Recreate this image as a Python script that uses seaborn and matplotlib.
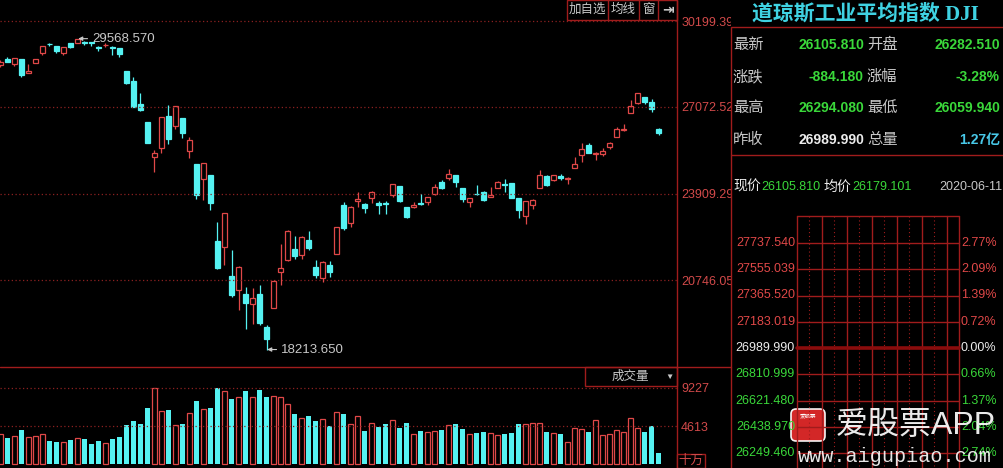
import numpy as np
import pandas as pd
import matplotlib
matplotlib.use("Agg")
import matplotlib.pyplot as plt
import seaborn as sns
from matplotlib.patches import Rectangle, FancyBboxPatch

# 道琼斯工业平均指数 日K 2020-01-28 ~ 2020-06-11
opens = [28598, 28820, 28641, 28813, 28319, 28696, 29048, 29388, 29286, 29034,
         29400, 29406, 29436, 29430, 29280, 29330, 29260, 29230, 28402, 28025,
         27188, 26536, 25229, 25590, 26762, 26383, 26671, 25457, 24992, 24453,
         24604, 22184, 21973, 20917, 20400, 20230, 19880, 20253, 19028, 19722,
         21050, 21468, 21898, 21678, 22208, 21227, 20819, 21285, 21693, 23500,
         22840, 23650, 23530, 23750, 23560, 23580, 23840, 24180, 23420, 23420,
         23560, 23620, 23900, 24350, 24480, 24600, 24120, 23600, 23900, 23950,
         23800, 24100, 24260, 24300, 23750, 23100, 23500, 24100, 24560, 24400,
         24560, 24440, 24830, 25330, 25700, 25340, 25350, 25600, 25960, 26230,
         26850, 27230, 27447, 27250, 26282.51]
highs = [28773, 28892, 28879, 28813, 28630, 28844, 29301, 29408, 29286, 29278,
         29415, 29568.57, 29500, 29440, 29300, 29408, 29290, 29240, 28402, 28175,
         27600, 26536, 25520, 26706, 27140, 27102, 26671, 25994, 24992, 25020,
         24604, 22860, 23186, 21850, 21270, 20490, 20450, 20570, 19122, 20750,
         22070, 22595, 22360, 22378, 22540, 21500, 21455, 21447, 22680, 23600,
         23449, 23950, 23560, 23990, 23650, 23630, 24264, 24180, 23420, 23600,
         23900, 23780, 24250, 24400, 24800, 24600, 24120, 23760, 24220, 24000,
         24150, 24360, 24460, 24300, 23750, 23650, 23700, 24765, 24600, 24600,
         24640, 24520, 25230, 25750, 25760, 25440, 25560, 25800, 26340, 26450,
         27340, 27580, 27450, 27350, 26294.08]
lows = [28548, 28722, 28560, 28169, 28319, 28696, 28961, 29283, 29056, 28990,
        29218, 29406, 29350, 29300, 29110, 29280, 28990, 28900, 27921, 27057,
        26916, 25758, 24681, 25391, 25706, 26286, 25944, 25227, 23707, 23690,
        23328, 21154, 21286, 20117, 19650, 18950, 19130, 19124, 18213.65, 19722,
        20570, 21452, 21520, 21522, 21855, 20830, 20675, 20863, 21693, 22580,
        22700, 23433, 23200, 23580, 23170, 23170, 23800, 23600, 23000, 23400,
        23480, 23500, 23850, 24080, 24420, 24150, 23600, 23420, 23850, 23630,
        23780, 24100, 23970, 23750, 23010, 22790, 23350, 24100, 24180, 24380,
        24400, 24270, 24830, 25050, 25380, 25140, 25300, 25540, 25960, 26200,
        26850, 27200, 27180, 26900, 26059.94]
closes = [28723, 28734, 28859, 28256, 28400, 28808, 29291, 29380, 29103, 29277,
          29276, 29551, 29423, 29398, 29232, 29348, 29220, 28992, 27961, 27081,
          26958, 25767, 25409, 26703, 25917, 27091, 26121, 25865, 23851, 25018,
          23553, 21201, 23186, 20189, 21237, 19899, 20087, 19174, 18592, 20705,
          21201, 22552, 21637, 22327, 21917, 20944, 21413, 21053, 22680, 22654,
          23434, 23719, 23391, 23950, 23504, 23538, 24242, 23650, 23060, 23476,
          23515, 23775, 24134, 24102, 24634, 24346, 23724, 23750, 23883, 23665,
          23876, 24331, 24222, 23765, 23300, 23625, 23685, 24597, 24207, 24576,
          24474, 24465, 24995, 25548, 25401, 25383, 25475, 25743, 26270, 26282,
          27111, 27572, 27272, 26990, 26105.81]
# 成交量 (十万)
volumes = [3660, 3210, 3415, 4145, 3295, 3415, 3660, 2845, 2685, 2685,
           2925, 3170, 3050, 2440, 2805, 2560, 3090, 3295, 4755, 5245,
           4880, 6830, 9227, 6465, 6585, 4755, 4880, 6220, 7685, 6705,
           6830, 9227, 8900, 7925, 8170, 8900, 8170, 9025, 8170, 8295,
           8170, 7315, 6100, 5610, 5855, 5245, 5490, 4635, 6340, 6100,
           4880, 5855, 4025, 5000, 4510, 4880, 5365, 4390, 5000, 3660,
           4025, 3900, 4025, 4145, 4755, 4880, 4270, 3660, 3780, 3900,
           3780, 3535, 3660, 3780, 4880, 4880, 5000, 5000, 3900, 3780,
           3660, 2685, 4390, 4270, 3900, 5365, 3535, 3660, 4145, 3900,
           5610, 4390, 3900, 4635, 1340]

price_grid = [30199.39, 27072.52, 23909.29, 20746.05]
price_grid_labels = ["30199.39", "27072.52", "23909.29", "20746.05"]
vol_grid = [9227, 4613]
vol_grid_labels = ["9227", "4613"]

panel_title = "道琼斯工业平均指数 DJI"
quote_labels_l = ["最新", "涨跌", "最高", "昨收"]
quote_values_l = ["26105.810", "-884.180", "26294.080", "26989.990"]
quote_labels_r = ["开盘", "涨幅", "最低", "总量"]
quote_values_r = ["26282.510", "-3.28%", "26059.940", "1.27亿"]
last_price = "26105.810"
avg_price = "26179.101"
trade_date = "2020-06-11"
ladder_prices = ["27737.540", "27555.039", "27365.520", "27183.019", "26989.990",
                 "26810.999", "26621.480", "26438.970", "26249.460"]
ladder_pcts = ["2.77%", "2.09%", "1.39%", "0.72%", "0.00%",
               "0.66%", "1.37%", "2.04%", "2.74%"]

RED = "#e04848"
CYAN = "#55f2f2"
GREEN = "#3ad83a"
WHITE = "#ececec"
GRAY = "#c8c8c8"
LINE = "#a01c1c"
GRID = "#8c2020"
LBL = "#d24a4a"

sns.set_theme(style="dark", rc={"figure.facecolor": "black", "axes.facecolor": "black",
                                "savefig.facecolor": "black"})
plt.rcParams["font.family"] = ["Liberation Sans", "Noto Sans CJK SC", "DejaVu Sans"]

W, H = 1004, 468
fig = plt.figure(figsize=(W / 100, H / 100), dpi=100)
ax_p = fig.add_axes([0, 101 / H, 677 / W, 367 / H])
ax_v = fig.add_axes([0, 0, 677 / W, 101 / H])

o = np.array(opens, float)
c = np.array(closes, float)
h = np.array(highs, float)
l = np.array(lows, float)
x = np.arange(len(c))
up = c >= o
cols = np.where(up, RED, CYAN)
top = np.maximum(o, c)
bot = np.minimum(o, c)
body = np.maximum(top - bot, 1.0)

# K线
for v in price_grid:
    ax_p.axhline(v, color=GRID, lw=0.9, ls=(0, (1, 2)))
ax_p.vlines(x, top, h, color=cols, lw=0.9)
ax_p.vlines(x, l, bot, color=cols, lw=0.9)
ax_p.bar(x[up], body[up], bottom=bot[up], width=0.74, facecolor="black",
         edgecolor=RED, linewidth=0.9)
ax_p.bar(x[~up], body[~up], bottom=bot[~up], width=0.74, facecolor=CYAN,
         edgecolor=CYAN, linewidth=0.9)

# 最高/最低标注
i_hi = int(np.argmax(h))
i_lo = int(np.argmin(l))
arrow = dict(arrowstyle="-|>", mutation_scale=6, color=GRAY, lw=0.8, shrinkA=1, shrinkB=0)
ax_p.annotate(f"{h[i_hi]:.3f}", xy=(i_hi + 0.1, h[i_hi]), xytext=(i_hi + 2.1, h[i_hi]),
              va="center", color=GRAY, fontsize=9.5, arrowprops=arrow)
ax_p.annotate(f"{l[i_lo]:.3f}", xy=(i_lo + 0.1, l[i_lo]), xytext=(i_lo + 2.1, l[i_lo]),
              va="center", color=GRAY, fontsize=9.5, arrowprops=arrow)

ax_p.set_xlim(-0.07, 96.64)
ax_p.set_ylim(17575.5, 30980.9)
ax_p.set_xticks([])
ax_p.yaxis.tick_right()
ax_p.set_yticks(price_grid, price_grid_labels)
ax_p.tick_params(axis="y", length=0, pad=3, labelcolor=LBL, labelsize=9)
for s in ax_p.spines.values():
    s.set_visible(False)

# 成交量
df = pd.DataFrame({"idx": x, "vol": volumes, "up": up})
for v in vol_grid:
    ax_v.axhline(v, color=GRID, lw=0.9, ls=(0, (1, 2)))
sns.barplot(data=df[df["up"]], x="idx", y="vol", order=list(x), color=RED, fill=False,
            saturation=1, width=0.72, linewidth=0.9, errorbar=None, ax=ax_v)
sns.barplot(data=df[~df["up"]], x="idx", y="vol", order=list(x), color=CYAN,
            saturation=1, width=0.72, linewidth=0, errorbar=None, ax=ax_v)
ax_v.set_xlim(-0.07, 96.64)
ax_v.set_ylim(-486, 11776)
ax_v.set_xlabel("")
ax_v.set_ylabel("")
ax_v.set_xticks([])
ax_v.yaxis.tick_right()
ax_v.set_yticks(vol_grid, vol_grid_labels)
ax_v.tick_params(axis="y", length=0, pad=3, labelcolor=LBL, labelsize=9)
for s in ax_v.spines.values():
    s.set_visible(False)

# 覆盖层: 边框, 按钮, 右侧行情面板
ov = fig.add_axes([0, 0, 1, 1], zorder=10)
ov.set_xlim(0, W)
ov.set_ylim(H, 0)
ov.axis("off")
ov.patch.set_visible(False)

ov.plot([677, 677], [0, H], color=LINE, lw=1)
ov.plot([0, 731], [367, 367], color=LINE, lw=1)

ov.add_patch(Rectangle((567, 0), 110, 20, fill=False, edgecolor=LINE, lw=1))
for xd in [608, 639, 658]:
    ov.plot([xd, xd], [0, 20], color=LINE, lw=1)
for xt, t in [(587.5, "加自选"), (623.5, "均线"), (648.5, "窗")]:
    ov.text(xt, 10, t, color=GRAY, fontsize=9, ha="center", va="center")
ov.text(667.5, 10, "⇥", color=GRAY, fontsize=10, ha="center", va="center",
        family=["DejaVu Sans"], fontweight="bold")

ov.add_patch(Rectangle((585, 367), 92, 19, fill=False, edgecolor=LINE, lw=1))
ov.text(630, 377, "成交量", color=GRAY, fontsize=9, ha="center", va="center")
ov.text(669, 377, "▼", color=GRAY, fontsize=6, ha="center", va="center")
ov.text(691, 461, "十万", color=LBL, fontsize=9, ha="center", va="center",
        bbox=dict(boxstyle="square,pad=0.1", facecolor="black", edgecolor=LINE, lw=1))

ov.add_patch(Rectangle((731, 0), W - 731, H, facecolor="black", edgecolor="none"))
ov.add_patch(Rectangle((731, 27), W - 731, 128, fill=False, edgecolor=LINE, lw=1))
ov.plot([731, 731], [155, H], color=LINE, lw=1)

ov.text(865, 14, panel_title, color="#3fd2e2", fontsize=15, fontweight="bold",
        ha="center", va="center", family=["Liberation Serif", "Noto Sans CJK SC"])

row_y = [45, 77, 108, 140]
val_cols_l = [GREEN, GREEN, GREEN, WHITE]
val_cols_r = [GREEN, GREEN, GREEN, "#48c8e8"]
for k, yy in enumerate(row_y):
    ov.text(733, yy, quote_labels_l[k], color=GRAY, fontsize=11, va="center")
    ov.text(864, yy, quote_values_l[k], color=val_cols_l[k], fontsize=10,
            fontweight="bold", ha="right", va="center")
    ov.text(867, yy, quote_labels_r[k], color=GRAY, fontsize=11, va="center")
    ov.text(1000, yy, quote_values_r[k], color=val_cols_r[k], fontsize=10,
            fontweight="bold", ha="right", va="center")

ov.text(733, 187, "现价", color=WHITE, fontsize=10, va="center")
ov.text(761, 187, last_price, color=GREEN, fontsize=9, va="center")
ov.text(824, 187, "均价", color=WHITE, fontsize=10, va="center")
ov.text(852, 187, avg_price, color=GREEN, fontsize=9, va="center")
ov.text(1002, 187, trade_date, color=GRAY, fontsize=9, ha="right", va="center")

# 分时坐标格
gl, gr, gt = 797, 959, 216
ov.plot([gl, gr], [gt, gt], color=LINE, lw=1)
for xv in [797, 822, 847, 872, 897, 922, 947, 959]:
    ov.plot([xv, xv], [gt, H], color=LINE, lw=1)
for xv in [809.5, 834.5, 859.5, 884.5, 909.5, 934.5]:
    ov.plot([xv, xv], [gt, H], color=LINE, lw=0.8, ls=(0, (1, 2.5)))
mid = ladder_prices.index("26989.990")
for k, lab in enumerate(ladder_prices):
    yy = 243 + 26.25 * k
    if k < mid:
        col = RED
    elif k == mid:
        col = WHITE
    else:
        col = GREEN
    ov.plot([gl, gr], [yy, yy], color="#8a0c0c" if k == mid else LINE,
            lw=2.6 if k == mid else 1)
    ov.text(795, yy, lab, color=col, fontsize=9, ha="right", va="center")
    ov.text(961, yy, ladder_pcts[k], color=col, fontsize=9, ha="left", va="center")

# 水印
ov.add_patch(FancyBboxPatch((792, 410), 32, 30, boxstyle="round,pad=1,rounding_size=5",
                            facecolor="#e02a2a", edgecolor="white", lw=1.2, alpha=0.95))
ov.text(808, 416, "爱股票", color="white", fontsize=4, ha="center", va="center")
ov.text(836, 426, "爱股票APP", color="white", fontsize=23, va="center", alpha=0.92)
ov.text(895, 456, "www.aigupiao.com", color="white", fontsize=14.5, ha="center",
        va="center", family=["Liberation Mono"], alpha=0.9)

fig.savefig("out.png", dpi=100, facecolor="black")
